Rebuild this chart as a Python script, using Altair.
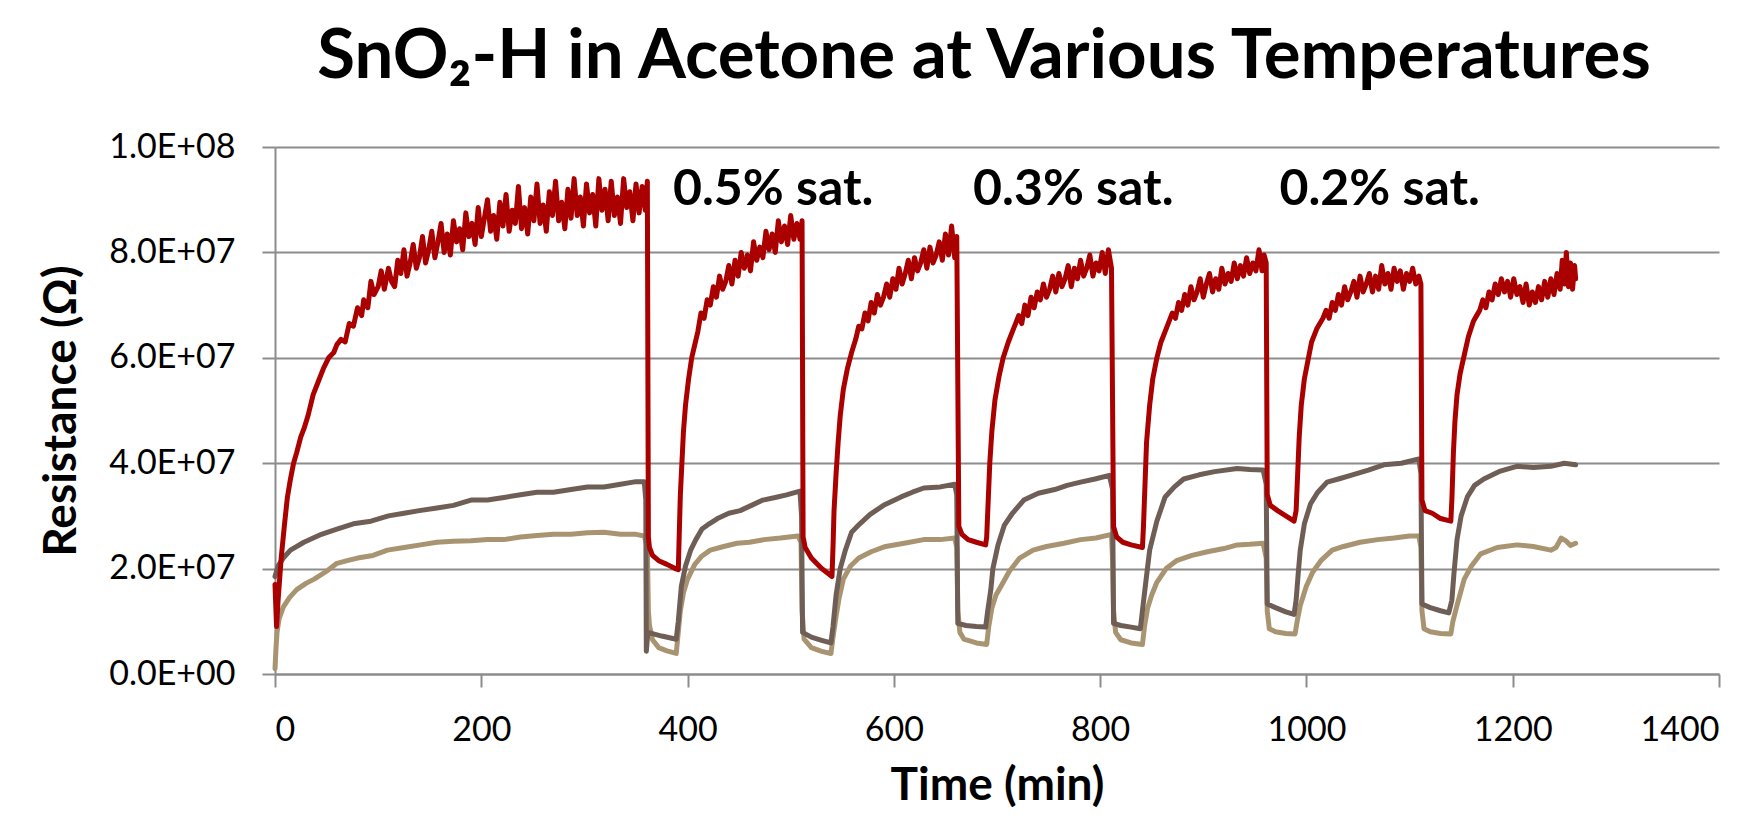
import altair as alt
import pandas as pd

# ---- data: (time in min, resistance in MOhm) ----
red_points = [
    (0, 17), (1.5, 9), (3, 14), (6, 22), (9, 28), (12, 33.5), (15, 37), (18, 40), (21, 42), (25, 45),
    (28, 46.5), (32, 49), (37, 53), (42, 55.5), (47, 58), (52, 60), (57, 61), (60, 62.5),
    (64, 63.5), (68, 63), (72, 66.5), (76, 66), (80, 69.5), (84, 68), (86, 71), (90, 69.5),
    (93, 74.5), (96, 72), (100, 73.5), (103, 76.5), (106, 73), (110, 77), (113, 74.5), (116, 73.5),
    (119, 78.5), (122, 76), (125, 80.5), (128, 75.5), (131, 78), (134, 81.5), (137, 77), (140, 79),
    (143, 83), (146, 78), (149, 80.5), (152, 84), (155, 79), (158, 82), (161, 85.5), (164, 80),
    (167, 83.5), (170, 79.5), (173, 86), (176, 82), (179, 84.5), (182, 80.5), (185, 87.5), (188, 83),
    (191, 85.5), (194, 81.5), (197, 88.5), (200, 83), (203, 86.5), (206, 90), (209, 84), (212, 87),
    (215, 82.5), (218, 89.5), (221, 85), (224, 91), (227, 84), (230, 88), (233, 85.5), (236, 92.5),
    (239, 84.5), (242, 88.5), (245, 83.5), (248, 90.5), (251, 86), (254, 93), (257, 85.5), (260, 89),
    (263, 84), (266, 91.5), (269, 87), (272, 93.5), (275, 86), (278, 89.5), (281, 84.5), (284, 92),
    (287, 86.5), (290, 94), (293, 87), (296, 90.5), (299, 85), (302, 93), (305, 87.5), (308, 91),
    (311, 85), (314, 94), (317, 88), (320, 92), (323, 86), (326, 93.5), (329, 87), (332, 90.5),
    (335, 85.5), (338, 94), (341, 88.5), (344, 91.5), (347, 86), (350, 93), (353, 87.5), (356, 92.5),
    (359, 88), (361, 93.5),
    (362, 26), (363, 24), (366, 22.5), (372, 21.5), (380, 20.8), (388, 20), (391, 19.8),
    (392, 27), (393, 34), (394.5, 40), (396, 46), (398, 51), (401, 56), (404, 60), (407, 62.5),
    (410, 65), (413, 68.5), (416, 67.5), (419, 71), (422, 70), (425, 73.5), (428, 71.5), (431, 75.5),
    (434, 73), (437, 74.5), (440, 77.5), (443, 74), (446, 78.5), (449, 75.5), (452, 80), (455, 77),
    (458, 79.5), (461, 76.5), (464, 82), (467, 78.5), (470, 81), (473, 79), (476, 84), (479, 80.5),
    (482, 83.5), (485, 80), (488, 86), (491, 82), (494, 85), (497, 81.5), (500, 87), (503, 82.5),
    (506, 85.5), (509, 82.5), (511, 86),
    (512, 26), (514, 24), (520, 22), (530, 20), (540, 18.5),
    (541, 24), (542, 31), (544, 38), (546, 44), (548, 49), (551, 54), (555, 58), (559, 61),
    (563, 63.5), (566, 66), (569, 65.5), (572, 68.5), (575, 67), (578, 70.5), (581, 68.5), (584, 72),
    (587, 70), (590, 71.5), (593, 74), (596, 71.5), (599, 75), (602, 73), (605, 77), (608, 74),
    (611, 76), (614, 78.5), (617, 75), (620, 79), (623, 76.5), (626, 78), (629, 80.5), (632, 77),
    (635, 81), (638, 78), (641, 79.5), (644, 82), (647, 78.5), (650, 83.5), (653, 79.5), (656, 85),
    (659, 79), (661, 83),
    (663, 28), (666, 26.5), (672, 25.5), (680, 25), (689, 24.5),
    (690, 26), (691.5, 33), (693, 40), (695, 46), (698, 52), (702, 56.5), (706, 60), (711, 63),
    (715, 65), (718, 66.5), (721, 68), (724, 66.5), (727, 70), (730, 68), (733, 71.5), (736, 69.5),
    (739, 72.5), (742, 71), (745, 74), (748, 71.5), (751, 73), (754, 75.5), (757, 72.5), (760, 76),
    (763, 73.5), (766, 75), (769, 77.5), (772, 73.5), (775, 77), (778, 75), (781, 78.5), (784, 75.5),
    (787, 77), (790, 79.5), (793, 75.5), (796, 78), (799, 76.5), (802, 80), (805, 76), (808, 80.5),
    (811, 77),
    (813, 28), (816, 26), (822, 25), (830, 24.5), (841, 24),
    (842, 28), (843.5, 36), (845, 44), (848, 51), (851, 56), (855, 60), (859, 63), (864, 65.5),
    (867, 67), (870, 68.5), (873, 67.5), (876, 70.5), (879, 69), (882, 72), (885, 70), (888, 73.5),
    (891, 71), (894, 72.5), (897, 75), (900, 71.5), (903, 74), (906, 76), (909, 72.5), (912, 75),
    (915, 73), (918, 77), (921, 74), (924, 76), (927, 74.5), (930, 78), (933, 75), (936, 77.5),
    (939, 75.5), (942, 79), (945, 76), (948, 78), (951, 76.5), (954, 80.5), (957, 76.5), (959, 79.5),
    (961, 78),
    (962, 34), (965, 32), (972, 31), (980, 30), (988, 29),
    (990, 31), (991.5, 38), (993, 45), (995, 51), (998, 56), (1001, 59), (1005, 63), (1010, 65.5),
    (1013, 66.5), (1016, 67.5), (1019, 69), (1022, 67.5), (1025, 70.5), (1028, 69), (1031, 72),
    (1034, 70), (1037, 73.5), (1040, 71), (1043, 72.5), (1046, 74.5), (1049, 71.5), (1052, 75.5),
    (1055, 72.5), (1058, 74), (1061, 76), (1064, 72.5), (1067, 75.5), (1070, 73), (1073, 77.5),
    (1076, 74), (1079, 76), (1082, 73), (1085, 77), (1088, 74.5), (1091, 76.5), (1094, 73), (1097, 76),
    (1100, 74.5), (1103, 77), (1106, 74), (1109, 75.5), (1111, 74),
    (1112, 33), (1115, 31), (1122, 30.5), (1130, 29.5), (1140, 29),
    (1141, 33), (1142.5, 42), (1144, 48), (1146, 53), (1149, 57), (1153, 60.5), (1157, 64),
    (1162, 67), (1165, 68), (1168, 69), (1171, 71), (1174, 69.5), (1177, 72.5), (1180, 71), (1183, 74),
    (1186, 72), (1189, 75), (1192, 72.5), (1195, 74.5), (1198, 71.5), (1201, 75), (1204, 72),
    (1207, 73.5), (1210, 70.5), (1213, 74), (1216, 70), (1219, 72.5), (1222, 70.5), (1225, 73.5),
    (1228, 71), (1231, 74.5), (1234, 71.5), (1237, 75), (1240, 72), (1243, 76), (1246, 73),
    (1248, 78.5), (1250, 74), (1252, 80), (1254, 73.5), (1256, 78), (1258, 73), (1260, 77.5), (1261, 75),
]

brown_points = [
    (0, 18.5), (3, 20.5), (8, 22), (15, 23.5), (28, 25), (45, 26.5), (60, 27.5), (76, 28.5),
    (93, 29), (110, 30), (125, 30.5), (140, 31), (157, 31.5), (173, 32), (190, 33), (206, 33),
    (222, 33.5), (238, 34), (254, 34.5), (270, 34.5), (287, 35), (303, 35.5), (319, 35.5),
    (335, 36), (350, 36.5), (358, 36.5), (359.5, 33), (360, 4.3), (361.5, 7.9), (365, 7.7),
    (375, 7.2), (389, 6.6), (391, 10), (394, 16.7), (398, 20.5), (403, 23.5), (408, 25.5),
    (414, 27.5), (421, 28.5), (429, 29.5), (440, 30.5), (451, 31), (462, 32), (473, 33),
    (485, 33.5), (496, 34), (509, 34.7), (510.5, 30), (511.5, 7.9), (520, 7), (530, 6.4),
    (539, 5.9), (541, 9), (544, 15), (548, 20), (553, 23.5), (559, 26.9), (567, 28.5),
    (577, 30.3), (590, 32), (607, 33.6), (618, 34.5), (629, 35.3), (645, 35.5), (659, 36),
    (661, 34), (662, 9.6), (670, 9.2), (680, 9), (689, 8.9), (691, 12), (694, 16), (696, 20),
    (701, 24.5), (707, 28.2), (715, 30.5), (726, 33), (740, 34.3), (756, 35), (768, 35.8),
    (781, 36.4), (795, 37), (809, 37.7), (812, 35), (813, 9.6), (820, 9.2), (830, 8.9),
    (839, 8.6), (841, 12), (844, 17), (848, 23.5), (855, 29), (863, 33.6), (872, 35.5),
    (881, 37), (896, 37.8), (911, 38.4), (933, 39), (945, 38.8), (958, 38.7), (961, 36),
    (962, 13.3), (970, 12.6), (980, 11.8), (988, 11.3), (990, 14), (992, 19), (994, 23.5),
    (998, 28.5), (1004, 32.3), (1011, 34.5), (1020, 36.4), (1031, 37), (1043, 37.7),
    (1060, 38.7), (1075, 39.7), (1092, 40), (1109, 40.8), (1111, 38), (1112, 13.3),
    (1120, 12.6), (1130, 12), (1138, 11.6), (1141, 14), (1143, 19), (1146, 25.5), (1150, 30),
    (1156, 33.6), (1163, 35.8), (1172, 37), (1188, 38.5), (1204, 39.4), (1220, 39.2),
    (1237, 39.4), (1250, 40), (1261, 39.7),
]

tan_points = [
    (0, 1), (1, 5), (2, 8), (4, 10.5), (8, 12.7), (14, 14.5), (21, 16), (30, 17.2), (38, 18),
    (50, 19.5), (60, 21), (70, 21.5), (80, 22), (95, 22.5), (109, 23.5), (125, 24), (141, 24.5),
    (157, 25), (173, 25.2), (190, 25.3), (206, 25.5), (222, 25.5), (238, 26), (254, 26.3),
    (270, 26.5), (287, 26.5), (303, 26.8), (319, 26.9), (335, 26.5), (350, 26.5), (358, 26.2),
    (361, 24), (362, 12), (363, 9.3), (366, 6.5), (372, 5), (380, 4.4), (389, 3.9), (391, 8),
    (393, 12), (396, 15.4), (400, 18), (407, 20.8), (414, 22.4), (422, 23.5), (435, 24.2),
    (448, 24.8), (460, 25), (474, 25.5), (490, 25.8), (507, 26.2), (510, 25), (511, 12),
    (513, 6.6), (520, 5), (530, 4.3), (539, 3.9), (541, 7), (544, 11), (547, 14.5), (551, 18),
    (558, 20.5), (566, 22), (578, 23.2), (592, 24.2), (610, 24.8), (629, 25.5), (645, 25.5),
    (659, 25.8), (661, 24), (662, 12), (664, 7.9), (668, 6.6), (680, 5.9), (690, 5.6), (692, 9),
    (695, 12.5), (699, 15), (704, 16.7), (712, 19.5), (722, 22), (735, 23.5), (748, 24.2),
    (765, 24.8), (781, 25.5), (796, 25.8), (811, 26.5), (812, 22), (813, 12), (815, 7.9),
    (820, 6.5), (830, 5.9), (841, 5.6), (843, 9), (846, 12.5), (850, 15), (855, 17.4), (864, 20),
    (874, 21.5), (889, 22.5), (904, 23.2), (920, 23.8), (933, 24.5), (945, 24.6), (958, 24.8),
    (961, 22), (962, 12), (964, 8.6), (970, 8), (980, 7.7), (989, 7.6), (991, 10), (994, 13),
    (1000, 16.7), (1006, 19.3), (1014, 21.5), (1025, 23.5), (1036, 24.2), (1052, 25), (1069, 25.5),
    (1085, 25.8), (1100, 26.2), (1109, 26.2), (1111, 24), (1112, 12), (1114, 8.6), (1120, 8),
    (1130, 7.7), (1140, 7.6), (1142, 10), (1146, 13), (1153, 18), (1160, 20.5), (1169, 22.8),
    (1185, 24), (1204, 24.5), (1220, 24.2), (1237, 23.5), (1242, 24), (1247, 25.8), (1252, 25.2),
    (1256, 24.4), (1261, 24.8),
]

series_names = ["tan", "brown", "red"]          # drawing order (bottom to top)
series_colors = ["#A99471", "#6F5E55", "#AA0000"]

ann_text = ["0.5% sat.", "0.3% sat.", "0.2% sat."]
ann_time = [483, 774, 1071]
ann_res = [8.9e7, 8.9e7, 8.9e7]

x_ticks = [0, 200, 400, 600, 800, 1000, 1200, 1400]
y_ticks = [0, 2e7, 4e7, 6e7, 8e7, 1e8]

FONT = "Lato"
GRID = "#8C8C8C"

rows = []
for name, pts in zip(["red", "brown", "tan"], [red_points, brown_points, tan_points]):
    for t, r in pts:
        rows.append({"series": name, "t": t, "R": r * 1e6})
df = pd.DataFrame(rows)
ann_df = pd.DataFrame({"text": ann_text, "t": ann_time, "R": ann_res})

x_enc = alt.X("t:Q", scale=alt.Scale(domain=[0, 1400], nice=False),
              axis=alt.Axis(title="Time (min)", values=x_ticks, grid=False, format="d"))
y_enc = alt.Y("R:Q", scale=alt.Scale(domain=[0, 1e8], nice=False),
              axis=alt.Axis(title="Resistance (Ω)", values=y_ticks, grid=True,
                            labelExpr=("datum.value == 0 ? '0.0E+00' : "
                                       "format(datum.value / pow(10, floor(log(datum.value) / LN10 + 1e-9)), '.1f')"
                                       " + 'E+' + (floor(log(datum.value) / LN10 + 1e-9) < 10 ? '0' : '')"
                                       " + floor(log(datum.value) / LN10 + 1e-9)")))

layers = []
for name, color in zip(series_names, series_colors):
    layers.append(
        alt.Chart(df).transform_filter(alt.datum.series == name)
        .mark_line(color=color, strokeWidth=5, strokeJoin="round", strokeCap="round")
        .encode(x=x_enc, y=y_enc)
    )

ann = alt.Chart(ann_df).mark_text(font=FONT, fontSize=50, fontWeight="bold", color="black",
                                  align="center", baseline="alphabetic").encode(
    x="t:Q", y="R:Q", text="text:N")

chart = alt.layer(*layers, ann).properties(
    width=1444, height=527,
    autosize=alt.AutoSizeParams(type="none"),
    padding={"left": 267, "top": 139, "right": 30, "bottom": 140},
    title=alt.TitleParams(text="SnO₂-H in Acetone at Various Temperatures", font=FONT, fontSize=69,
                          fontWeight="bold", color="black", anchor="middle", dx=-13, offset=38),
).configure_view(stroke=None).configure_axis(
    labelFont=FONT, labelFontSize=34, labelColor="black", titleFont=FONT, titleFontSize=46,
    titleFontWeight="bold", titleColor="black", domainColor=GRID, domainWidth=2, tickColor=GRID,
    tickWidth=2, tickSize=13, gridColor=GRID, gridWidth=2,
).configure_axisY(labelPadding=27, titlePadding=23).configure_axisX(labelPadding=26, titlePadding=16)

chart.save("out.html", embed_options={"renderer": "svg", "actions": False})
